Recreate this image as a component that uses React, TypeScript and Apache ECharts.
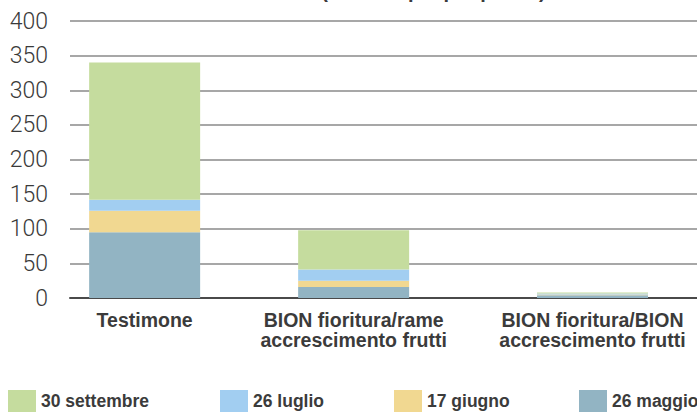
import React, { useEffect, useRef } from "react";
import * as echarts from "echarts";

const titleText = "Attacchi sui frutti (frutti colpiti per pianta)";
const categories = [
  "Testimone",
  "BION fioritura/rame\naccrescimento frutti",
  "BION fioritura/BION\naccrescimento frutti",
];
const seriesNames = ["26 maggio", "17 giugno", "26 luglio", "30 settembre"];
const maggio = [95, 16, 4];
const giugno = [31, 9, 1];
const luglio = [16, 16, 1.5];
const settembre = [198, 57, 1.5];
const legendOrder = ["30 settembre", "26 luglio", "17 giugno", "26 maggio"];
const yTicks = { min: 0, max: 400, interval: 50 };

// layout: categories sit on unevenly spaced slots of a finer category axis
const SLOT_COUNT = 21;
const SLOT_OF_CATEGORY = [2, 9, 17];
const colors: Record<string, string> = {
  "26 maggio": "#92B4C3",
  "17 giugno": "#F1D891",
  "26 luglio": "#A2CEF1",
  "30 settembre": "#C5DC9E",
};
const legendLeft = [8, 220, 394, 579];

const BOLD = "'Liberation Sans', Arial, Helvetica, sans-serif";

export default function App() {
  const ref = useRef<HTMLDivElement>(null);
  useEffect(() => {
    document.body.style.margin = "0";
    if (!ref.current) return;
    const chart = echarts.init(ref.current, null, { renderer: "svg" });

    const slotLabels: string[] = Array.from({ length: SLOT_COUNT }, () => "");
    SLOT_OF_CATEGORY.forEach((s, i) => (slotLabels[s] = categories[i]));
    const toSlots = (vals: number[]) => {
      const out: (number | string)[] = Array.from({ length: SLOT_COUNT }, () => "-");
      SLOT_OF_CATEGORY.forEach((s, i) => (out[s] = vals[i]));
      return out;
    };
    const valuesByName: Record<string, number[]> = {
      "26 maggio": maggio,
      "17 giugno": giugno,
      "26 luglio": luglio,
      "30 settembre": settembre,
    };

    chart.setOption({
      animation: false,
      title: {
        text: titleText,
        left: "center",
        top: -21,
        padding: 0,
        textStyle: { fontFamily: BOLD, fontWeight: "bold", fontSize: 20, lineHeight: 23, color: "#3b3b3b" },
      },
      legend: legendOrder.map((name, i) => ({
        data: [name],
        left: legendLeft[i],
        top: 390,
        itemWidth: 28,
        itemHeight: 22,
        itemGap: 0,
        icon: "rect",
        padding: 0,
        selectedMode: false,
        textStyle: { fontFamily: BOLD, fontWeight: "bold", fontSize: 17.5, color: "#3b3b3b", padding: [3, 0, 0, 0] },
      })),
      grid: { left: 70, width: 630, top: 21, bottom: 114, containLabel: false },
      xAxis: {
        type: "category",
        data: slotLabels,
        axisTick: { show: false },
        axisLine: { lineStyle: { color: "#4a4a4a", width: 2 } },
        axisLabel: {
          interval: 0,
          margin: 12,
          fontFamily: BOLD,
          fontWeight: "bold",
          fontSize: 19.5,
          lineHeight: 20,
          color: "#3b3b3b",
          align: "center",
        },
      },
      yAxis: {
        type: "value",
        min: yTicks.min,
        max: yTicks.max,
        interval: yTicks.interval,
        axisLine: { show: false },
        axisTick: { show: false },
        splitLine: { show: true, lineStyle: { color: "#8a8a8a", width: 1.5 } },
        axisLabel: {
          margin: 22,
          fontFamily: "Roboto, 'Open Sans', sans-serif",
          fontWeight: 300,
          fontSize: 23,
          color: "#3a3a3a",
        },
      },
      series: seriesNames.map((name) => ({
        name,
        type: "bar",
        stack: "total",
        barWidth: 111,
        itemStyle: { color: colors[name] },
        data: toSlots(valuesByName[name]),
      })),
    });
    return () => chart.dispose();
  }, []);
  return <div ref={ref} style={{ width: 697, height: 412 }} />;
}
